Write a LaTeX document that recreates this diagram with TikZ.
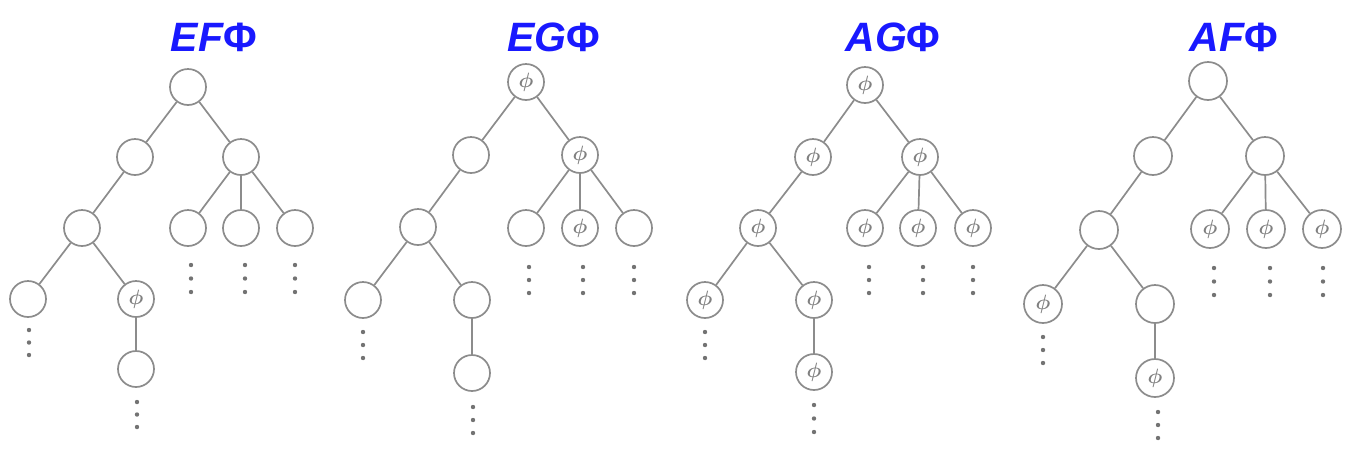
\documentclass[tikz,border=0pt]{standalone}
\usepackage{fontspec}
\usepackage{amsmath}
\newfontfamily\titlefont{Liberation Sans}
\begin{document}
\begin{tikzpicture}[x=1pt,y=-1pt,
  vtx/.style={circle, draw=black!45, line width=1.7pt, minimum size=36pt, inner sep=0pt, fill=white},
  bigvtx/.style={vtx, minimum size=38pt},
  phv/.style={text=black!50, font=\fontsize{20}{20}\selectfont},
  edge/.style={draw=black!45, line width=1.7pt},
  ttl/.style={text=blue!90!white, font=\titlefont\bfseries\fontsize{41}{41}\selectfont, anchor=base, inner sep=0pt},
  dotc/.style={fill=black!55}]
\useasboundingbox (0,0) rectangle (1352,456);
\newcommand{\vdts}[3]{\foreach \dy in {0,1,2} \fill[dotc] (#1,#2+\dy*#3) circle (2.2pt);}
\newcommand{\ph}{$\boldsymbol{\phi}$}
% titles
\node[ttl] (t1) at (214,51) {{\itshape EF}Φ};
\node[ttl] (t2) at (554,51) {{\itshape EG}Φ};
\node[ttl] (t3) at (893,51) {{\itshape AG}Φ};
\node[ttl] (t4) at (1234,51) {{\itshape AF}Φ};
% tree 1: EF
\node[vtx] (r1) at (188,87) {};
\node[vtx] (a1) at (135,157) {};
\node[vtx] (b1) at (241,157) {};
\node[vtx] (c1) at (82,228) {};
\node[vtx] (d1) at (188,228) {};
\node[vtx] (e1) at (241,228) {};
\node[vtx] (f1) at (295,228) {};
\node[vtx] (g1) at (28,299) {};
\node[vtx,phv] (h1) at (136,299) {\ph};
\node[vtx] (i1) at (136,369) {};
% tree 2: EG
\node[vtx,phv] (r2) at (526,82) {\ph};
\node[vtx] (a2) at (471,155) {};
\node[vtx,phv] (b2) at (580,155) {\ph};
\node[vtx] (c2) at (418,227) {};
\node[vtx] (d2) at (526,228) {};
\node[vtx,phv] (e2) at (580,228) {\ph};
\node[vtx] (f2) at (634,228) {};
\node[vtx] (g2) at (363,300) {};
\node[vtx] (h2) at (472,300) {};
\node[vtx] (i2) at (472,373) {};
% tree 3: AG
\node[vtx,phv] (r3) at (865,85) {\ph};
\node[vtx,phv] (a3) at (813,157) {\ph};
\node[vtx,phv] (b3) at (920,157) {\ph};
\node[vtx,phv] (c3) at (758,228) {\ph};
\node[vtx,phv] (d3) at (865,228) {\ph};
\node[vtx,phv] (e3) at (918,228) {\ph};
\node[vtx,phv] (f3) at (973,228) {\ph};
\node[vtx,phv] (g3) at (705,300) {\ph};
\node[vtx,phv] (h3) at (814,300) {\ph};
\node[vtx,phv] (i3) at (814,372) {\ph};
% tree 4: AF
\node[bigvtx] (r4) at (1208,81) {};
\node[bigvtx] (a4) at (1153,156) {};
\node[bigvtx] (b4) at (1265,156) {};
\node[bigvtx] (c4) at (1099,230) {};
\node[bigvtx,phv] (d4) at (1210,229) {\ph};
\node[bigvtx,phv] (e4) at (1266,229) {\ph};
\node[bigvtx,phv] (f4) at (1322,229) {\ph};
\node[bigvtx,phv] (g4) at (1043,304) {\ph};
\node[bigvtx] (h4) at (1155,304) {};
\node[bigvtx,phv] (i4) at (1155,378) {\ph};
% edges
\foreach \t in {1,2,3,4} {
  \draw[edge] (r\t) -- (a\t);
  \draw[edge] (r\t) -- (b\t);
  \draw[edge] (a\t) -- (c\t);
  \draw[edge] (b\t) -- (d\t);
  \draw[edge] (b\t) -- (e\t);
  \draw[edge] (b\t) -- (f\t);
  \draw[edge] (c\t) -- (g\t);
  \draw[edge] (c\t) -- (h\t);
  \draw[edge] (h\t) -- (i\t);
}
% continuation dots
\vdts{191}{265}{13.5}\vdts{245}{265}{13.5}\vdts{295}{265}{13.5}
\vdts{29}{330}{12.5}\vdts{137}{402}{12.5}
\vdts{529}{267}{13}\vdts{583}{267}{13}\vdts{634}{267}{13}
\vdts{363}{332}{13}\vdts{473}{407}{13}
\vdts{869}{267}{13}\vdts{923}{267}{13}\vdts{973}{267}{13}
\vdts{705}{332}{13}\vdts{814}{405}{13.5}
\vdts{1214}{268}{13.5}\vdts{1270}{268}{13.5}\vdts{1323}{268}{13.5}
\vdts{1043}{337}{13}\vdts{1158}{412}{13}
\end{tikzpicture}
\end{document}
